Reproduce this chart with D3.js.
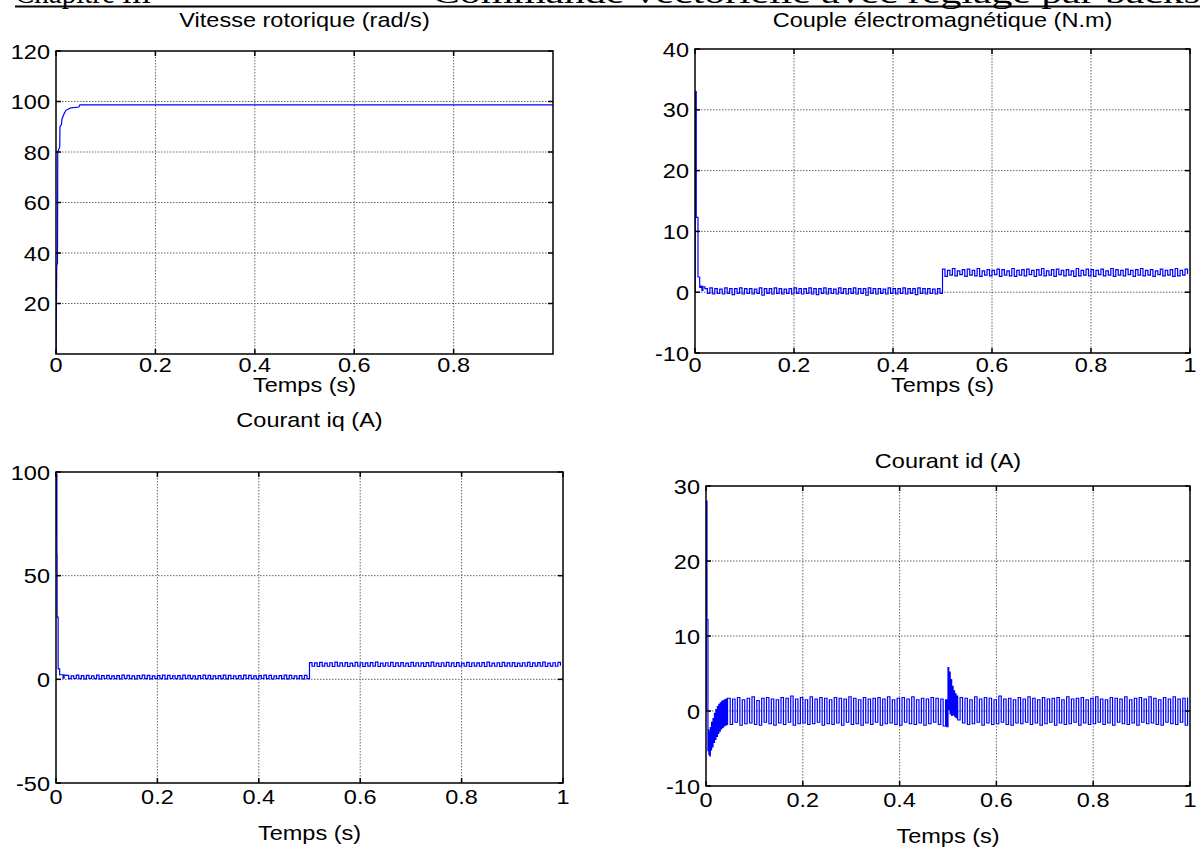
<!DOCTYPE html>
<html>
<head>
<meta charset="utf-8">
<script src="https://cdn.jsdelivr.net/npm/d3@7"></script>
<style>
  body { margin: 0; background: #fff; }
  svg { display: block; }
  text { font-family: "Liberation Sans", Arial, sans-serif; fill: #000; }
</style>
</head>
<body>
<div id="chart"></div>
<script>
// ---- data ----
const RIPPLE_STEP = 0.005;

// Vitesse rotorique (rad/s): [t, w]
const speedPoints = [
  [0, 0.5], [0.0015, 35], [0.003, 36], [0.0035, 80], [0.0075, 82], [0.008, 90],
  [0.011, 91], [0.012, 93], [0.016, 95], [0.02, 96.5], [0.025, 97], [0.03, 97.5],
  [0.046, 97.8], [0.048, 98.7], [0.9999, 98.7]
];

// Couple electromagnetique (N.m)
const torqueHead = [
  [0, 0], [0.0005, 33], [0.002, 33], [0.0025, 12.3], [0.0055, 12.3], [0.006, 2.5],
  [0.009, 2.5], [0.0095, 0.8], [0.012, 1.0], [0.014, 0.3], [0.016, 0.9]
];
const torqueLowStart = 0.02;
const torqueLow = [
  0.6,-0.2,0.7,-0.3,0.6,-0.2,0.5,-0.3,0.7,-0.2,0.6,-0.4,0.6,-0.2,0.7,-0.3,0.6,-0.2,0.6,-0.3,
  0.5,-0.2,0.7,-0.5,0.6,-0.2,0.6,-0.3,0.7,-0.2,0.6,-0.3,0.5,-0.2,0.6,-0.3,0.7,-0.2,0.6,-0.3,
  0.6,-0.2,0.7,-0.3,0.6,-0.4,0.6,-0.2,0.7,-0.3,0.6,-0.2,0.5,-0.3,0.7,-0.2,0.6,-0.3,0.6,-0.2,
  0.7,-0.3,0.6,-0.2,0.6,-0.5,0.7,-0.2,0.6,-0.3,0.6,-0.2,0.5,-0.3,0.7,-0.2,0.6,-0.3,0.6,-0.2,
  0.7,-0.3,0.6,-0.2,0.6,-0.4,0.7,-0.2,0.6,-0.3,0.6,-0.2,0.5,-0.3,0.6,-0.2
];
const torqueHighStart = 0.5;
const torqueHigh = [
  3.8,2.6,3.6,2.8,3.9,2.7,3.5,2.9,3.7,2.6,3.8,2.8,3.6,2.7,3.9,2.6,3.5,2.8,3.7,2.7,
  3.6,2.9,3.8,2.6,3.7,2.8,3.5,2.7,3.9,2.6,3.6,2.8,3.7,2.7,3.8,2.9,3.6,2.6,3.7,2.8,
  3.9,2.7,3.5,2.8,3.7,2.6,3.8,2.9,3.6,2.7,3.7,2.8,3.5,2.6,3.9,2.7,3.6,2.8,3.8,2.7,
  3.7,2.6,3.6,2.9,3.8,2.7,3.5,2.8,3.9,2.6,3.7,2.8,3.6,2.7,3.8,2.9,3.6,2.6,3.7,2.8,
  3.9,2.7,3.6,2.8,3.7,2.6,3.5,2.9,3.8,2.7,3.6,2.8,3.7,2.6,3.9,2.7,3.6,2.8,3.8,3.0
];

// Courant iq (A)
const iqHead = [
  [0, 99], [0.0006, 70], [0.0012, 99], [0.0018, 60], [0.0022, 30], [0.004, 30],
  [0.0042, 5], [0.007, 5], [0.0072, 2.2], [0.012, 2.2], [0.014, 0.6], [0.016, 2.0]
];
const iqLowStart = 0.02;
const iqLow = [
  1.9,0.3,1.7,0.4,2.0,0.3,1.8,0.2,1.9,0.4,1.7,0.3,2.0,0.2,1.8,0.4,1.9,0.3,1.7,0.3,
  1.8,0.2,2.0,0.4,1.9,0.3,1.7,0.2,1.8,0.4,2.0,0.3,1.9,0.2,1.7,0.4,1.8,0.3,2.0,0.2,
  1.9,0.4,1.7,0.3,1.8,0.2,2.0,0.4,1.9,0.3,1.7,0.2,1.8,0.4,2.0,0.3,1.9,0.2,1.7,0.4,
  1.8,0.3,2.0,0.2,1.9,0.4,1.7,0.3,1.8,0.2,2.0,0.4,1.9,0.3,1.7,0.2,1.8,0.4,2.0,0.3,
  1.9,0.2,1.7,0.4,1.8,0.3,2.0,0.2,1.9,0.4,1.7,0.3,1.8,0.2,1.9,0.3
];
const iqHighStart = 0.5;
const iqHigh = [
  8.1,6.3,7.9,6.2,8.2,6.4,7.8,6.3,8.0,6.2,8.3,6.4,7.9,6.3,8.1,6.2,7.8,6.4,8.2,6.3,
  8.0,6.2,7.9,6.4,8.1,6.3,8.3,6.2,7.8,6.4,8.0,6.3,8.2,6.2,7.9,6.4,8.1,6.3,7.8,6.2,
  8.2,6.4,8.0,6.3,7.9,6.2,8.1,6.4,8.3,6.3,7.8,6.2,8.0,6.4,8.2,6.3,7.9,6.2,8.1,6.4,
  7.8,6.3,8.2,6.2,8.0,6.4,7.9,6.3,8.1,6.2,8.3,6.4,7.8,6.3,8.0,6.2,8.2,6.4,7.9,6.3,
  8.1,6.2,7.8,6.4,8.0,6.3,8.2,6.2,7.9,6.4,8.1,6.3,8.3,6.2,7.8,6.4,8.0,6.3,8.2,6.5
];

// Courant id (A)
const idHead = [
  [0, 0], [0.0005, 28], [0.0015, 28], [0.002, 12.2], [0.0035, 12.2], [0.004, -5.3],
  [0.005, -2.5], [0.006, -5.8], [0.007, -2.8], [0.008, -6.0], [0.009, -2.2], [0.010, -5.2],
  [0.0115, -1.5], [0.013, -4.8], [0.0145, -1.0], [0.016, -4.2], [0.0175, -0.3], [0.019, -3.8],
  [0.0205, 0.2], [0.022, -3.4], [0.0235, 0.6], [0.025, -3.0], [0.0265, 0.9], [0.028, -2.7],
  [0.0295, 1.1], [0.031, -2.4], [0.0325, 1.3], [0.034, -2.2], [0.0355, 1.4], [0.037, -2.0],
  [0.0385, 1.5], [0.040, -1.9], [0.0415, 1.6], [0.043, -1.8], [0.0445, 1.7]
];
const idLowStart = 0.05;
const idLow = [
  -1.8,1.6,-1.5,1.8,-1.9,1.5,-1.7,1.7,-1.6,1.9,-1.8,1.4,-1.9,1.7,-1.5,1.8,-1.7,1.6,-1.9,1.5,
  -1.6,1.8,-1.8,1.7,-1.5,2.0,-1.9,1.6,-1.7,1.8,-1.6,1.5,-1.8,1.9,-1.7,1.6,-1.5,1.8,-1.9,1.7,
  -1.7,1.5,-1.8,1.8,-1.6,1.7,-1.9,1.6,-1.5,1.9,-1.8,1.7,-1.7,1.5,-1.9,1.8,-1.6,1.6,-1.8,1.7,
  -1.5,1.8,-1.9,1.6,-1.7,1.9,-1.6,1.5,-1.8,1.7,-1.9,1.8,-1.5,1.6,-1.7,1.9,-1.8,1.5,-1.6,1.7,
  -1.9,1.6,-1.7,1.8,-1.5,1.7,-1.8,1.6,-2.0,1.5
];
const idStep = [
  [0.4975, -2.1], [0.5, 5.8], [0.5015, 0.2], [0.503, 5.2], [0.5045, -0.4], [0.506, 4.2],
  [0.5075, -0.6], [0.509, 3.3], [0.5105, -0.5], [0.512, 2.7], [0.5135, -0.7], [0.515, 2.3],
  [0.5165, -0.9], [0.518, 2.0]
];
const idHighStart = 0.52;
const idHigh = [
  -1.2,1.8,-1.6,1.7,-1.8,1.5,-1.7,1.9,-1.5,1.6,-1.9,1.8,-1.6,1.7,-1.8,1.5,-1.7,2.0,-1.5,1.6,
  -1.8,1.7,-1.9,1.5,-1.6,1.8,-1.7,1.6,-1.5,1.9,-1.8,1.7,-1.6,1.5,-1.9,1.8,-1.7,1.6,-1.5,1.7,
  -1.9,1.8,-1.6,1.5,-1.8,1.9,-1.7,1.6,-1.5,1.7,-1.9,1.8,-1.6,1.5,-1.8,1.7,-1.7,1.9,-1.5,1.6,
  -1.8,1.5,-1.6,1.8,-1.9,1.7,-1.5,1.6,-1.7,1.9,-1.8,1.5,-1.6,1.7,-1.9,1.8,-1.5,1.6,-1.7,1.9,
  -1.6,1.7,-1.8,1.5,-1.9,1.8,-1.5,1.6,-1.7,1.9,-1.8,1.6,-1.5,1.7,-1.9,1.8
];

// tick labels
const xTicksA = [0, 0.2, 0.4, 0.6, 0.8];
const xTicksB = [0, 0.2, 0.4, 0.6, 0.8, 1];
const speedTicks = [20, 40, 60, 80, 100, 120];
const torqueTicks = [-10, 0, 10, 20, 30, 40];
const iqTicks = [-50, 0, 50, 100];
const idTicks = [-10, 0, 10, 20, 30];

const titles = ['Vitesse rotorique (rad/s)', 'Couple électromagnétique (N.m)', 'Courant iq (A)', 'Courant id (A)'];
const xLabel = 'Temps (s)';
const headerLeft = 'Chapitre III';
const headerRight = 'Commande vectorielle avec réglage par backstepping';

// ---- helpers ----
function ripple(start, values) {
  return values.map((v, i) => [start + i * RIPPLE_STEP, v]);
}

const speedData = speedPoints;
const torqueData = torqueHead.concat(ripple(torqueLowStart, torqueLow), ripple(torqueHighStart, torqueHigh));
const iqData = iqHead.concat(ripple(iqLowStart, iqLow), ripple(iqHighStart, iqHigh));
const idData = idHead.concat(ripple(idLowStart, idLow), idStep, ripple(idHighStart, idHigh));

const W = 1200, H = 852;
const svg = d3.select('#chart').append('svg').attr('width', W).attr('height', H);

// the scan is a little wider than tall, so the text is stretched sideways
const fontSize = 21;
const stretchX = 1.12;
const tickLen = 5;

function label(parent, x, y, str, anchor, dy) {
  return parent.append('text')
    .attr('transform', `translate(${x},${y}) scale(${stretchX},1)`)
    .attr('text-anchor', anchor)
    .attr('dy', dy || 0)
    .style('font-size', fontSize + 'px')
    .text(str);
}

// page header (cut at the top of the scan)
svg.append('text')
  .attr('x', 15).attr('y', 3)
  .style('font-family', '"Liberation Serif", "Times New Roman", serif')
  .style('font-size', '29px')
  .text(headerLeft);
svg.append('text')
  .attr('x', 432).attr('y', 3)
  .attr('textLength', 893).attr('lengthAdjust', 'spacingAndGlyphs')
  .style('font-family', '"Liberation Serif", "Times New Roman", serif')
  .style('font-size', '29px')
  .text(headerRight);
svg.append('line')
  .attr('x1', 15).attr('x2', W).attr('y1', 6.5).attr('y2', 6.5)
  .attr('stroke', '#000').attr('stroke-width', 2);

const panels = [
  { data: speedData, curve: d3.curveLinear, xMax: 0.9999, xTicks: xTicksA, yDomain: [0, 120], yTicks: speedTicks,
    box: { l: 56, r: 553, t: 51, b: 354 }, title: titles[0], titleY: 27, tickY: 372, labelY: 392 },
  { data: torqueData, curve: d3.curveStepAfter, xMax: 1, xTicks: xTicksB, yDomain: [-10, 40], yTicks: torqueTicks,
    box: { l: 695, r: 1190, t: 49, b: 353 }, title: titles[1], titleY: 27, tickY: 372, labelY: 392 },
  { data: iqData, curve: d3.curveStepAfter, xMax: 1, xTicks: xTicksB, yDomain: [-50, 100], yTicks: iqTicks,
    box: { l: 56, r: 563, t: 472, b: 783 }, title: titles[2], titleY: 427, tickY: 804, labelY: 840 },
  { data: idData, curve: d3.curveStepAfter, xMax: 1, xTicks: xTicksB, yDomain: [-10, 30], yTicks: idTicks,
    box: { l: 706, r: 1190, t: 486, b: 786 }, title: titles[3], titleY: 468, tickY: 807, labelY: 843 }
];

panels.forEach((p, i) => {
  const { l, r, t, b } = p.box;
  const x = d3.scaleLinear().domain([0, p.xMax]).range([l, r]);
  const y = d3.scaleLinear().domain(p.yDomain).range([b, t]);
  const g = svg.append('g').attr('class', 'panel');

  // grid
  g.selectAll('.gx').data(p.xTicks.filter(v => x(v) > l + 1 && x(v) < r - 1)).join('line')
    .attr('x1', d => x(d)).attr('x2', d => x(d)).attr('y1', t).attr('y2', b)
    .attr('stroke', '#666').attr('stroke-width', 1).attr('stroke-dasharray', '1.5,1.5');
  g.selectAll('.gy').data(p.yTicks.filter(v => y(v) > t + 1 && y(v) < b - 1)).join('line')
    .attr('x1', l).attr('x2', r).attr('y1', d => y(d)).attr('y2', d => y(d))
    .attr('stroke', '#666').attr('stroke-width', 1).attr('stroke-dasharray', '1.5,1.5');

  // signal
  const clipId = 'clip' + i;
  svg.append('clipPath').attr('id', clipId).append('rect')
    .attr('x', l).attr('y', t).attr('width', r - l).attr('height', b - t);
  const line = d3.line().curve(p.curve).x(d => x(d[0])).y(d => y(d[1]));
  g.append('path').datum(p.data)
    .attr('clip-path', `url(#${clipId})`)
    .attr('fill', 'none').attr('stroke', '#0000ff').attr('stroke-width', 1.2)
    .attr('d', line);

  // box
  g.append('rect').attr('x', l).attr('y', t).attr('width', r - l).attr('height', b - t)
    .attr('fill', 'none').attr('stroke', '#000').attr('stroke-width', 1.5);

  // inward ticks on all four sides
  p.xTicks.forEach(v => {
    g.append('line').attr('x1', x(v)).attr('x2', x(v)).attr('y1', b).attr('y2', b - tickLen)
      .attr('stroke', '#000').attr('stroke-width', 1.5);
    g.append('line').attr('x1', x(v)).attr('x2', x(v)).attr('y1', t).attr('y2', t + tickLen)
      .attr('stroke', '#000').attr('stroke-width', 1.5);
  });
  p.yTicks.forEach(v => {
    g.append('line').attr('x1', l).attr('x2', l + tickLen).attr('y1', y(v)).attr('y2', y(v))
      .attr('stroke', '#000').attr('stroke-width', 1.5);
    g.append('line').attr('x1', r).attr('x2', r - tickLen).attr('y1', y(v)).attr('y2', y(v))
      .attr('stroke', '#000').attr('stroke-width', 1.5);
  });

  // tick labels
  p.xTicks.forEach(v => label(g, x(v), p.tickY, d3.format('~g')(v), 'middle'));
  p.yTicks.forEach(v => label(g, l - 6, y(v), String(v), 'end', '0.36em'));

  // titles
  label(g, (l + r) / 2, p.titleY, p.title, 'middle');
  label(g, (l + r) / 2, p.labelY, xLabel, 'middle');
});
</script>
</body>
</html>
